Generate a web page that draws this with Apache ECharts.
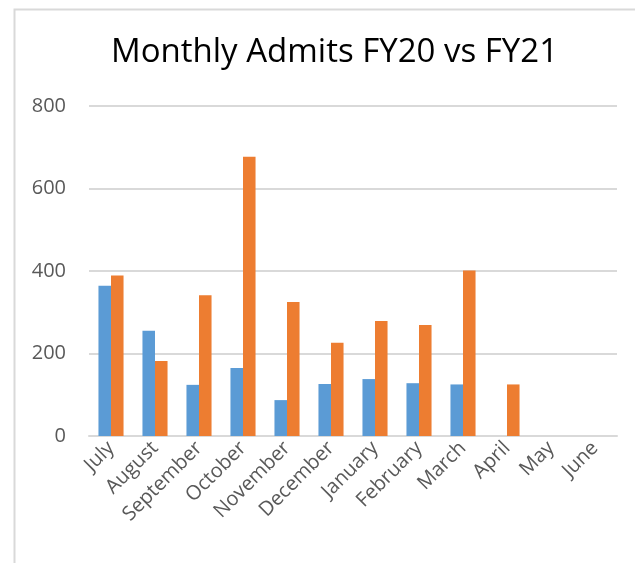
<!DOCTYPE html>
<html>
<head>
<meta charset="utf-8">
<script src="https://cdn.jsdelivr.net/npm/echarts@6/dist/echarts.min.js"></script>
<style>
  html, body { margin: 0; padding: 0; background: #fff; }
  #chart { width: 635px; height: 563px; }
</style>
</head>
<body>
<div id="chart"></div>
<script>
// Monthly admits, fiscal year July..June
const months = ['July', 'August', 'September', 'October', 'November', 'December',
  'January', 'February', 'March', 'April', 'May', 'June'];
const fy20 = [364, 255, 124, 165, 87, 126, 138, 128, 125, null, null, null];
const fy21 = [389, 182, 341, 677, 325, 226, 279, 269, 401, 125, null, null];
const yTicks = { min: 0, max: 800, step: 200 };

const chart = echarts.init(document.getElementById('chart'));
const axisFont = { color: '#595959', fontSize: 20, fontFamily: 'Open Sans' };

chart.setOption({
  animation: false,
  title: {
    text: 'Monthly Admits FY20 vs FY21',
    left: 106, top: 31,
    textStyle: { fontFamily: 'Open Sans', fontSize: 33, fontWeight: 400, color: '#000' }
  },
  // outer chart border (left + top visible in the crop)
  graphic: [{
    type: 'rect', left: 12, top: 7,
    shape: { width: 700, height: 600 },
    style: { fill: 'none', stroke: '#d9d9d9', lineWidth: 2 }
  }],
  grid: { left: 89, right: 18, top: 106, bottom: 127, outerBoundsMode: 'none' },
  xAxis: {
    type: 'category',
    data: months,
    axisLine: { lineStyle: { color: '#d9d9d9', width: 2 } },
    axisTick: { show: false },
    axisLabel: Object.assign({ interval: 0, rotate: 45, margin: 9 }, axisFont)
  },
  yAxis: {
    type: 'value',
    min: yTicks.min, max: yTicks.max, interval: yTicks.step,
    axisLine: { show: false },
    axisTick: { show: false },
    splitLine: { lineStyle: { color: '#d9d9d9', width: 2 } },
    axisLabel: Object.assign({ margin: 23 }, axisFont)
  },
  series: [
    { name: 'FY20', type: 'bar', data: fy20, itemStyle: { color: '#5b9bd5' },
      barGap: '0%', barCategoryGap: '43%' },
    { name: 'FY21', type: 'bar', data: fy21, itemStyle: { color: '#ed7d31' },
      barGap: '0%', barCategoryGap: '43%' }
  ]
});
</script>
</body>
</html>
